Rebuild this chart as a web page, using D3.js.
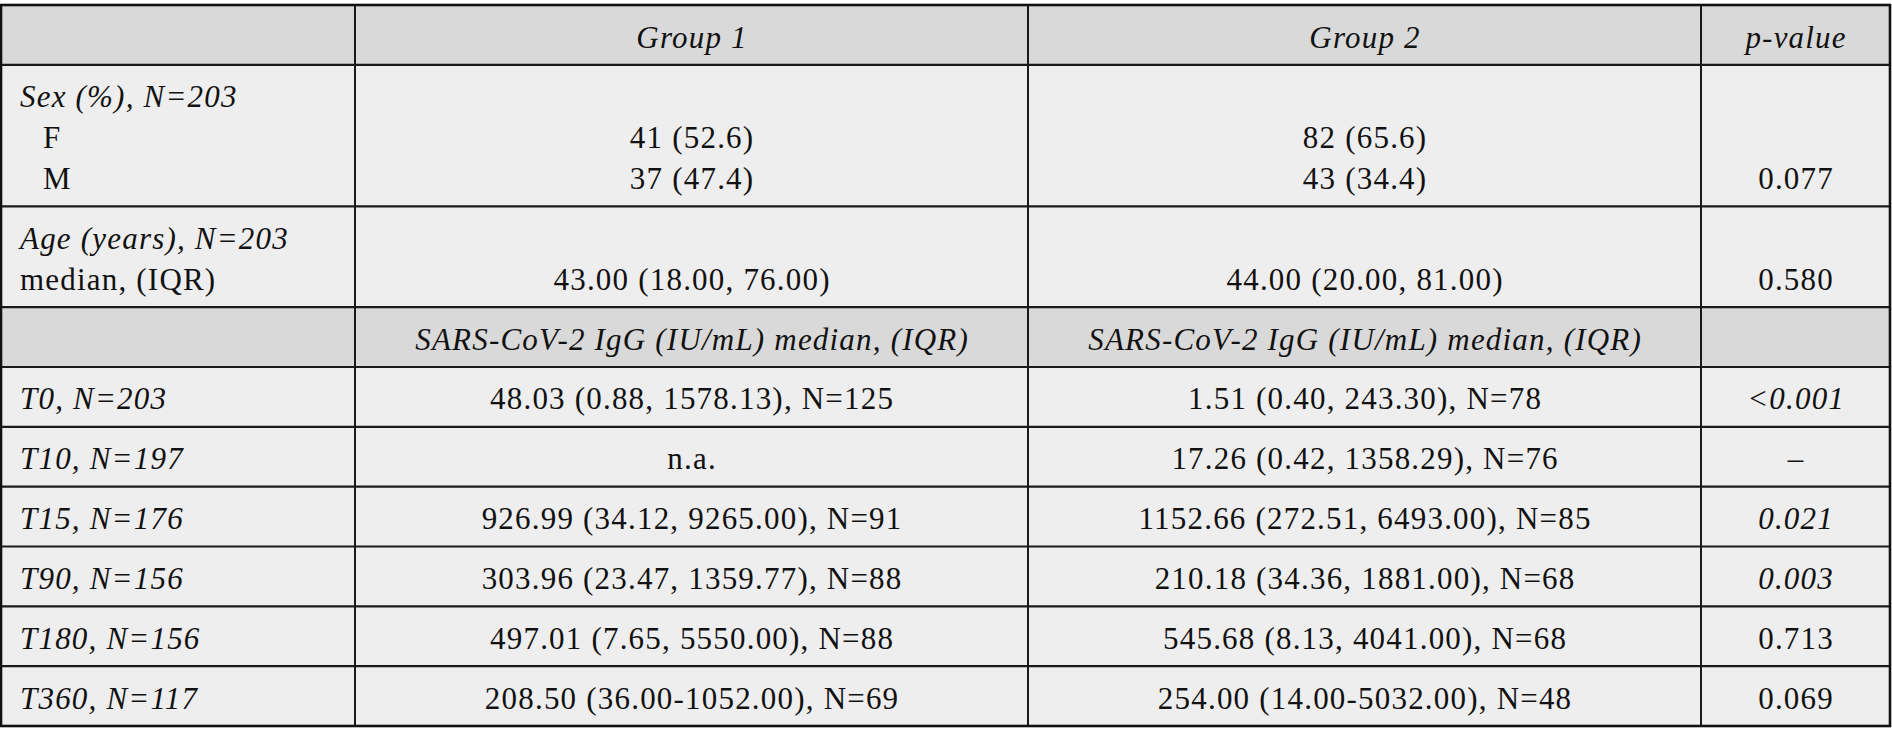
<!DOCTYPE html>
<html lang="en">
	<head>
		<meta charset="utf-8">
		<title>IgG table</title>
		<script type="text/javascript" src="https://cdn.jsdelivr.net/npm/d3@7"></script>
		<style type="text/css">
			body { margin: 0; background: #fff; }
		</style>
	</head>
	<body>
		<script type="text/javascript">

			var w = 1892;
			var h = 744;

			// table content
			var headers = ["", "Group 1", "Group 2", "p-value"];
			var sexLabel = "Sex (%), N=203";
			var sexLevels = ["F", "M"];
			var sexGroup1 = ["41 (52.6)", "37 (47.4)"];
			var sexGroup2 = ["82 (65.6)", "43 (34.4)"];
			var sexP = "0.077";
			var ageLabel = "Age (years), N=203";
			var ageStat = "median, (IQR)";
			var ageGroup1 = "43.00 (18.00, 76.00)";
			var ageGroup2 = "44.00 (20.00, 81.00)";
			var ageP = "0.580";
			var igHeader = "SARS-CoV-2 IgG (IU/mL) median, (IQR)";
			var timepoints = ["T0, N=203", "T10, N=197", "T15, N=176", "T90, N=156", "T180, N=156", "T360, N=117"];
			var igGroup1 = ["48.03 (0.88, 1578.13), N=125", "n.a.", "926.99 (34.12, 9265.00), N=91",
			                "303.96 (23.47, 1359.77), N=88", "497.01 (7.65, 5550.00), N=88", "208.50 (36.00-1052.00), N=69"];
			var igGroup2 = ["1.51 (0.40, 243.30), N=78", "17.26 (0.42, 1358.29), N=76", "1152.66 (272.51, 6493.00), N=85",
			                "210.18 (34.36, 1881.00), N=68", "545.68 (8.13, 4041.00), N=68", "254.00 (14.00-5032.00), N=48"];
			var igP = ["<0.001", "\u2013", "0.021", "0.003", "0.713", "0.069"];
			var igPItalic = [true, false, true, true, false, false];

			// layout
			var colWidths = [354, 673, 673, 189];
			var lineGap = 41;
			var fontSize = 31;

			// each row: list of cells, each cell a list of lines
			function L(text, italic, indent) { return {text: text, italic: !!italic, indent: indent || 0}; }

			var rows = [];
			rows.push({shade: true, lines: 1, cells: headers.map(function(t) { return [L(t, true)]; })});
			rows.push({shade: false, lines: 3, cells: [
				[L(sexLabel, true), L(sexLevels[0], false, 23), L(sexLevels[1], false, 23)],
				[L(""), L(sexGroup1[0]), L(sexGroup1[1])],
				[L(""), L(sexGroup2[0]), L(sexGroup2[1])],
				[L(""), L(""), L(sexP)]
			]});
			rows.push({shade: false, lines: 2, cells: [
				[L(ageLabel, true), L(ageStat)],
				[L(""), L(ageGroup1)],
				[L(""), L(ageGroup2)],
				[L(""), L(ageP)]
			]});
			rows.push({shade: true, lines: 1, cells: [[L("")], [L(igHeader, true)], [L(igHeader, true)], [L("")]]});
			timepoints.forEach(function(t, i) {
				rows.push({shade: false, lines: 1, cells: [
					[L(t, true)], [L(igGroup1[i])], [L(igGroup2[i])], [L(igP[i], igPItalic[i])]
				]});
			});

			var units = rows.map(function(r) { return r.lines * lineGap + 19; });
			var cum = [0];
			units.forEach(function(u) { cum.push(cum[cum.length - 1] + u); });
			var yScale = d3.scaleLinear().domain([0, cum[cum.length - 1]]).range([5, 726]);

			var colCum = [0];
			colWidths.forEach(function(c) { colCum.push(colCum[colCum.length - 1] + c); });
			var xScale = d3.scaleLinear().domain([0, colCum[colCum.length - 1]]).range([1, 1890]);

			var svg = d3.select("body")
						.append("svg")
						.attr("width", w)
						.attr("height", h);

			// backgrounds
			svg.selectAll("rect.row")
			   .data(rows)
			   .enter()
			   .append("rect")
			   .attr("class", "row")
			   .attr("x", xScale(0))
			   .attr("y", function(d, i) { return yScale(cum[i]); })
			   .attr("width", xScale(colCum[4]) - xScale(0))
			   .attr("height", function(d, i) { return yScale(cum[i + 1]) - yScale(cum[i]); })
			   .attr("fill", function(d) { return d.shade ? "#d9d9d9" : "#eeeeee"; });

			// text
			var font = "'Liberation Serif', 'Times New Roman', serif";
			var spacing = 1.2;
			rows.forEach(function(r, ri) {
				var top = yScale(cum[ri]);
				r.cells.forEach(function(cell, ci) {
					cell.forEach(function(ln, li) {
						if (!ln.text) return;
						var left = ci === 0;
						svg.append("text")
						   .text(ln.text)
						   .attr("x", left ? xScale(colCum[0]) + 19 + ln.indent
						                   : (xScale(colCum[ci]) + xScale(colCum[ci + 1])) / 2 + spacing / 2)
						   .attr("y", top + 42.5 + li * lineGap)
						   .attr("text-anchor", left ? "start" : "middle")
						   .attr("font-family", font)
						   .attr("font-size", fontSize + "px")
						   .attr("letter-spacing", spacing)
						   .attr("font-style", ln.italic ? "italic" : "normal")
						   .attr("fill", "#111");
					});
				});
			});

			// grid lines
			var hLines = cum.slice(1, cum.length - 1);
			svg.selectAll("line.h")
			   .data(hLines)
			   .enter()
			   .append("line")
			   .attr("x1", xScale(0))
			   .attr("x2", xScale(colCum[4]))
			   .attr("y1", function(d) { return yScale(d); })
			   .attr("y2", function(d) { return yScale(d); })
			   .attr("stroke", "#1a1a1a")
			   .attr("stroke-width", 2.2);

			svg.selectAll("line.v")
			   .data(colCum.slice(1, 4))
			   .enter()
			   .append("line")
			   .attr("x1", function(d) { return xScale(d); })
			   .attr("x2", function(d) { return xScale(d); })
			   .attr("y1", yScale(0))
			   .attr("y2", yScale(cum[cum.length - 1]))
			   .attr("stroke", "#1a1a1a")
			   .attr("stroke-width", 2);

			svg.append("rect")
			   .attr("x", xScale(0))
			   .attr("y", yScale(0))
			   .attr("width", xScale(colCum[4]) - xScale(0))
			   .attr("height", yScale(cum[cum.length - 1]) - yScale(0))
			   .attr("fill", "none")
			   .attr("stroke", "#111")
			   .attr("stroke-width", 2.6);

		</script>
	</body>
</html>
